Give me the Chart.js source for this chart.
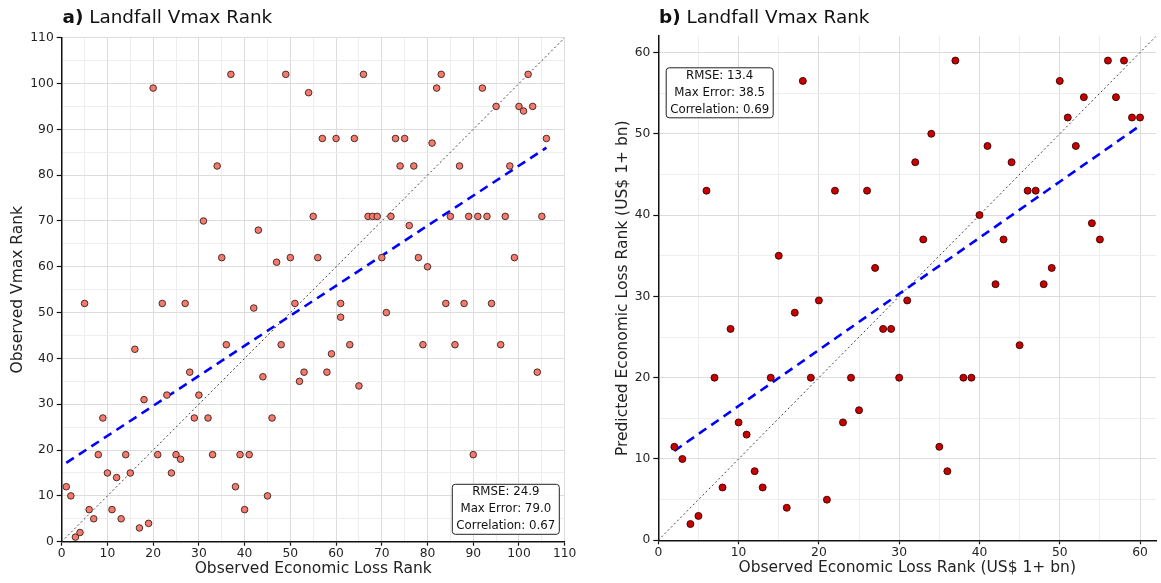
<!DOCTYPE html>
<html>
<head>
<meta charset="utf-8">
<script src="https://cdn.jsdelivr.net/npm/chart.js@4.4.1/dist/chart.umd.min.js"></script>
<style>
  html, body { margin: 0; padding: 0; background: #fff; }
  #wrap { position: relative; width: 1161px; height: 583px; overflow: hidden; }
  #ca { position: absolute; left: 0; top: 0; }
  #cb { position: absolute; left: 580px; top: 0; }
</style>
</head>
<body>
<div id="wrap">
  <canvas id="ca" width="580" height="583"></canvas>
  <canvas id="cb" width="581" height="583"></canvas>
</div>
<script>
// ---------- Panel a data ----------
const lossRankA = [1,2,3,4,5,6,7,8,9,10,11,12,13,14,15,16,17,18,19,20,21,22,23,24,25,26,27,28,29,30,31,32,33,34,35,36,37,38,39,40,41,42,43,44,45,46,47,48,49,50,51,52,53,54,55,56,57,58,59,60,61,61,63,64,65,66,67,68,69,70,71,72,73,74,75,76,77,78,79,80,81,82,83,84,85,86,87,88,89,90,91,92,93,94,95,96,97,98,99,100,101,102,103,104,105,106];
const vmaxRankA = [12,10,1,2,52,7,5,19,27,15,7,14,5,19,15,42,3,31,4,99,19,52,32,15,19,18,52,37,27,32,70,27,19,82,62,43,102,12,19,7,19,51,68,36,10,27,61,43,102,62,52,35,37,98,71,62,88,37,41,88,52,49,43,88,34,102,71,71,71,62,50,71,88,82,88,69,82,62,43,60,87,99,102,52,71,43,82,52,71,19,71,99,71,52,95,43,71,82,62,95,94,102,95,37,71,88];
const fitXA = [1, 106];
const fitYA = [17.2, 86.0];
const diagA = [0, 110];
const statsA = ["RMSE: 24.9", "Max Error: 79.0", "Correlation: 0.67"];

// ---------- Panel b data ----------
const lossRankB = [2,3,4,5,6,7,8,9,10,11,12,13,14,15,16,17,18,19,20,21,22,23,24,25,26,27,28,29,30,31,32,33,34,35,36,37,38,39,40,41,42,43,44,45,46,47,48,49,50,51,52,53,54,55,56,57,58,59,60];
const predRankB = [11.5,10,2,3,43,20,6.5,26,14.5,13,8.5,6.5,20,35,4,28,56.5,20,29.5,5,43,14.5,20,16,43,33.5,26,26,20,29.5,46.5,37,50,11.5,8.5,59,20,20,40,48.5,31.5,37,46.5,24,43,43,31.5,33.5,56.5,52,48.5,54.5,39,37,59,54.5,59,52,52];
const fitXB = [2, 60];
const fitYB = [11.0, 51.0];
const diagB = [0, 62];
const statsB = ["RMSE: 13.4", "Max Error: 38.5", "Correlation: 0.69"];

const FONT = '"DejaVu Sans", "Noto Sans", sans-serif';

const zip = (xs, ys) => xs.map((x, i) => ({ x: x, y: ys[i] }));

const panelTitle = {
  id: 'panelTitle',
  afterDraw(chart, args, o) {
    const ctx = chart.ctx;
    ctx.save();
    ctx.fillStyle = '#111';
    ctx.textBaseline = 'alphabetic';
    ctx.textAlign = 'left';
    ctx.font = 'bold 18.4px ' + FONT;
    ctx.fillText(o.tag, o.x, o.y);
    const w = ctx.measureText(o.tag).width;
    ctx.font = '18.4px ' + FONT;
    const sw = ctx.measureText(' ').width;
    ctx.fillText(o.text, o.x + w + sw, o.y);
    ctx.restore();
  }
};

const statsBox = {
  id: 'statsBox',
  afterDatasetsDraw(chart, args, o) {
    const ctx = chart.ctx;
    ctx.save();
    const x0 = o.cx - o.w / 2, y0 = o.cy - o.h / 2;
    ctx.beginPath();
    ctx.roundRect(x0, y0, o.w, o.h, 3);
    ctx.fillStyle = 'rgba(255,255,255,0.9)';
    ctx.fill();
    ctx.lineWidth = 1;
    ctx.strokeStyle = '#222';
    ctx.stroke();
    ctx.fillStyle = '#111';
    ctx.font = '11.8px ' + FONT;
    ctx.textAlign = 'center';
    ctx.textBaseline = 'middle';
    o.lines.forEach((t, i) => ctx.fillText(t, o.cx, o.cy + (i - 1) * 17));
    ctx.restore();
  }
};

function makeScale(min, max, title, fixed, horizontal, titlePad) {
  return {
    type: 'linear',
    min: min, max: max,
    position: horizontal ? 'bottom' : 'left',
    afterFit: (s) => { if (horizontal) s.height = fixed; else s.width = fixed; },
    grid: {
      color: (c) => (c.tick && c.tick.value % 10 === 0) ? '#dcdcdc' : '#eeeeee',
      lineWidth: 1,
      drawTicks: true,
      tickLength: horizontal ? 4 : 5,
      tickWidth: 1.2,
      tickColor: (c) => (c.tick && c.tick.value % 10 === 0) ? '#111' : 'rgba(0,0,0,0)'
    },
    border: { display: true, color: '#111', width: 1.5 },
    ticks: {
      stepSize: 5,
      autoSkip: false,
      includeBounds: false,
      maxRotation: 0,
      padding: horizontal ? 1 : 3,
      color: '#222',
      font: { family: FONT, size: 12.3 },
      callback: (v) => (v % 10 === 0 ? String(v) : '')
    },
    title: {
      display: true,
      text: title,
      color: '#222',
      font: { family: FONT, size: 15.5 },
      padding: titlePad
    }
  };
}

function makeChart(id, cfg) {
  return new Chart(document.getElementById(id), {
    type: 'scatter',
    data: {
      datasets: [
        {
          data: zip(cfg.xs, cfg.ys),
          pointRadius: cfg.r,
          pointBackgroundColor: cfg.fill,
          pointBorderColor: cfg.edge,
          pointBorderWidth: 0.9,
          showLine: false
        },
        {
          data: zip(cfg.fitX, cfg.fitY),
          showLine: true,
          pointRadius: 0,
          borderColor: '#0000ff',
          borderWidth: 2.6,
          borderDash: [9, 6]
        },
        {
          data: zip(cfg.diag, cfg.diag),
          showLine: true,
          pointRadius: 0,
          borderColor: '#444',
          borderWidth: 1,
          borderDash: [2, 2.5]
        }
      ]
    },
    options: {
      responsive: false,
      animation: false,
      devicePixelRatio: 1,
      layout: { padding: cfg.pad },
      plugins: {
        legend: { display: false },
        tooltip: { enabled: false },
        panelTitle: cfg.titleOpts,
        statsBox: cfg.boxOpts
      },
      scales: {
        x: makeScale(0, cfg.max, cfg.xTitle, cfg.xH, true, { top: 0, bottom: cfg.xTitlePad }),
        y: makeScale(0, cfg.max, cfg.yTitle, cfg.yW, false, { top: cfg.yTitlePad, bottom: 0 })
      }
    },
    plugins: [panelTitle, statsBox]
  });
}

makeChart('ca', {
  xs: lossRankA, ys: vmaxRankA, fitX: fitXA, fitY: fitYA, diag: diagA,
  max: 110, r: 3.3, fill: '#f47a6b', edge: '#3a2020',
  pad: { top: 37.7, right: 15.3, left: 0, bottom: 0 },
  xH: 41.3, yW: 61.7,
  xTitle: 'Observed Economic Loss Rank', yTitle: 'Observed Vmax Rank',
  xTitlePad: 4.7, yTitlePad: 9,
  titleOpts: { tag: 'a)', text: 'Landfall Vmax Rank', x: 62.5, y: 23 },
  boxOpts: { lines: statsA, cx: 505.8, cy: 509.3, w: 107, h: 50 }
});

makeChart('cb', {
  xs: lossRankB, ys: predRankB, fitX: fitXB, fitY: fitYB, diag: diagB,
  max: 62, r: 3.5, fill: '#c80000', edge: '#3a0000',
  pad: { top: 36.2, right: 0, left: 0, bottom: 0 },
  xH: 42.7, yW: 78.3,
  xTitle: 'Observed Economic Loss Rank (US$ 1+ bn)', yTitle: 'Predicted Economic Loss Rank (US$ 1+ bn)',
  xTitlePad: 5.7, yTitlePad: 33.7,
  titleOpts: { tag: 'b)', text: 'Landfall Vmax Rank', x: 79, y: 23 },
  boxOpts: { lines: statsB, cx: 139.7, cy: 92.8, w: 107, h: 50 }
});
</script>
</body>
</html>
